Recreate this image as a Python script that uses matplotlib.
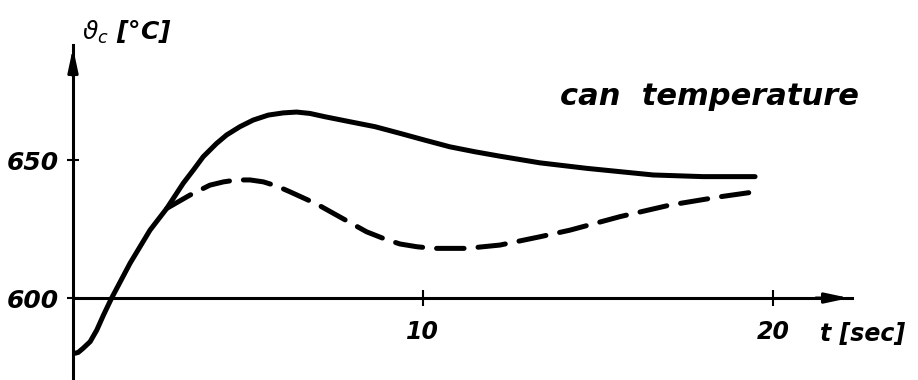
import matplotlib
matplotlib.use("Agg")
import matplotlib.pyplot as plt

# values (t in seconds, temperature in degC)
solid_t = [0.06, 0.15, 0.29, 0.49, 0.68, 0.87, 1.10, 1.63, 2.20, 2.68, 3.15, 3.44,
           3.72, 4.10, 4.39, 4.77, 5.15, 5.58, 6.01, 6.39, 6.77, 7.20, 7.91, 8.63,
           9.34, 10.06, 10.77, 11.49, 12.20, 13.34, 14.68, 16.58, 18.00, 19.49]
solid_T = [580.0, 580.3, 581.8, 584.2, 588.4, 593.8, 599.9, 612.6, 624.6, 632.5, 641.6, 646.4,
           651.2, 656.0, 659.1, 662.1, 664.5, 666.3, 667.1, 667.4, 666.9, 665.7, 663.9, 662.1,
           659.7, 657.2, 654.8, 653.0, 651.4, 649.0, 647.0, 644.6, 644.0, 644.0]

dashed_t = [2.68, 3.34, 3.91, 4.30, 4.68, 5.06, 5.44, 5.82, 6.20, 6.96, 7.44, 8.39,
            8.87, 9.34, 9.82, 10.29, 11.25, 12.20, 13.34, 14.20, 15.63, 17.06, 18.49, 19.49]
dashed_T = [632.5, 637.3, 640.9, 642.1, 642.8, 642.8, 642.1, 640.6, 638.5, 634.1, 630.7, 624.0,
            621.6, 619.6, 618.6, 618.0, 618.0, 619.2, 622.2, 624.6, 629.5, 633.7, 636.7, 638.5]

x_ticks = [10, 20]
y_ticks = [600, 650]

TXT = dict(style='italic', fontweight='bold', color='black')

fig = plt.figure(figsize=(9.18, 3.8), dpi=100)
ax = fig.add_axes([73 / 918, 0, (852 - 73) / 918, 1 - 45 / 380])
ax.set_xlim(0, 22.26)
ax.set_ylim(570.3, 691.7)

ax.plot(solid_t, solid_T, color='black', lw=3.6, solid_capstyle='round',
        solid_joinstyle='round')
dash_line, = ax.plot(dashed_t, dashed_T, color='black', lw=3.6,
                     dash_capstyle='round', dash_joinstyle='round')
dash_line.set_dashes((5.5, 2.8))

# axes drawn like the hand sketch: crossing at t=0 / 600 degC
for s in ['top', 'right']:
    ax.spines[s].set_visible(False)
ax.spines['bottom'].set_position(('data', 600))
ax.spines['left'].set_linewidth(2.2)
ax.spines['bottom'].set_linewidth(2.2)

ax.set_xticks(x_ticks)
ax.set_yticks(y_ticks)
ax.set_xticklabels([str(v) for v in x_ticks], fontsize=17, **TXT)
ax.set_yticklabels([str(v) for v in y_ticks], fontsize=18, **TXT)
ax.tick_params(axis='x', direction='inout', length=12, width=1.5, pad=10)
ax.tick_params(axis='y', direction='inout', length=8, width=1.5, pad=6)

# arrow heads
ax.annotate('', xy=(0, 1), xytext=(0, 0.9), xycoords='axes fraction',
            arrowprops=dict(arrowstyle='-|>,head_length=1.4,head_width=0.3',
                            color='black', lw=2.2))
ax.annotate('', xy=(1, 600), xytext=(0.95, 600), xycoords=ax.get_yaxis_transform(),
            arrowprops=dict(arrowstyle='-|>,head_length=1.4,head_width=0.3',
                            color='black', lw=2.2))

fig.text(82 / 918, 1 - 40 / 380, r'$\vartheta_c$ [°C]', fontsize=18, va='baseline', **TXT)
fig.text(820 / 918, 1 - 341 / 380, 't [sec]', fontsize=17, va='baseline', **TXT)
fig.text(560 / 918, 1 - 105 / 380, 'can  temperature', fontsize=22, va='baseline', **TXT)

fig.savefig('out.png', dpi=100)
